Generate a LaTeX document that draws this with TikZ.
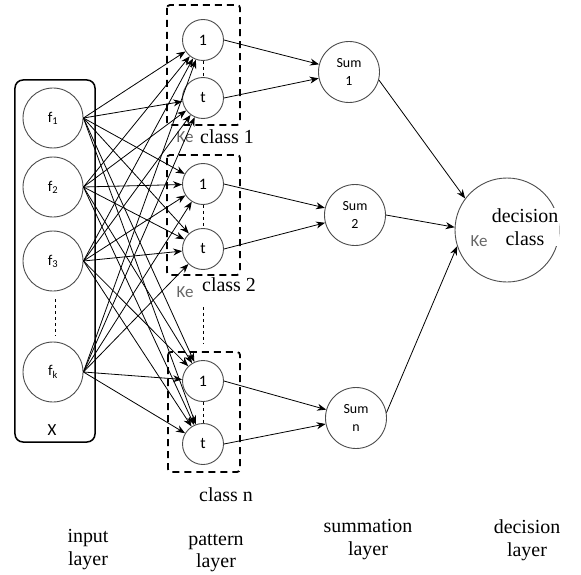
\documentclass[tikz,border=0pt]{standalone}
\usepackage{fontspec}
\setmainfont{Liberation Serif}
\newfontfamily\calib{Carlito}
\usetikzlibrary{arrows.meta}
\begin{document}
\begin{tikzpicture}[x=1bp,y=-1bp,
  fnode/.style={circle, draw=black!70, line width=0.9bp, minimum size=60bp, inner sep=0pt, font=\calib\fontsize{15}{15}\selectfont},
  pnode/.style={circle, draw=black!70, fill=white, line width=0.9bp, minimum size=41bp, inner sep=0pt, font=\calib\fontsize{16}{16}\selectfont},
  snode/.style={circle, draw=black!70, line width=0.9bp, minimum size=61bp, inner sep=0pt, align=center, font=\calib\fontsize{14}{18}\selectfont},
  dbox/.style={draw, line width=1.8bp, dash pattern=on 7bp off 5bp, rounded corners=3bp},
  conn/.style={-{Stealth[length=9bp,width=7bp]}, line width=0.8bp},
  lbl/.style={font=\fontsize{20}{23}\selectfont, align=center, inner sep=1bp},
  kelbl/.style={font=\calib\fontsize{17}{17}\selectfont, text=black!60, inner sep=0pt},
]
\useasboundingbox (0,0) rectangle (581,575);

% input layer
\node[draw, line width=1.5bp, rounded corners=8bp, minimum width=80bp, minimum height=362bp, inner sep=0pt] (X) at (55,261) {};
\node[font=\calib\fontsize{17}{17}\selectfont] (Xl) at (52,430) {X};
\node[fnode] (f1) at (53,118) {f\textsubscript{1}};
\node[fnode] (f2) at (53,187) {f\textsubscript{2}};
\node[fnode] (f3) at (53,261) {f\textsubscript{3}};
\node[fnode] (fk) at (53,372) {f\textsubscript{k}};
\draw[dashed, line width=0.8bp] (f3.south) ++(2,8) coordinate (da) -- ++(0,36) coordinate (db);

% pattern layer boxes
\draw[dbox] (167,5) rectangle (240,125);
\draw[dbox] (167,155) rectangle (240,275);
\draw[dbox] (168,352) rectangle (240,472);

\node[pnode] (p1) at (203,40) {1};
\node[pnode] (p2) at (203,98) {t};
\node[pnode] (p3) at (203,184) {1};
\node[pnode] (p4) at (203,249) {t};
\node[pnode] (p5) at (203,381) {1};
\node[pnode] (p6) at (203,444) {t};

\draw[dashed, line width=0.7bp] (p1) -- (p2);
\draw[dashed, line width=0.7bp] (p3) -- (p4);
\draw[dashed, line width=0.7bp] (p5) -- (p6);
\draw[dashed, line width=0.8bp] (203,307) coordinate (dc) -- (203,343) coordinate (dd);

% labels in pattern layer
\node[kelbl] (ke1) at (185,137) {Ke};
\node[lbl, fill=white, anchor=west] (c1) at (199,137) {class 1};
\node[kelbl] (ke2) at (185,292) {Ke};
\node[lbl, fill=white, anchor=west] (c2) at (201,285) {class 2};
\node[lbl] (cn) at (226,495) {class n};

% summation layer
\node[snode] (s1) at (349,72) {Sum\\1};
\node[snode] (s2) at (355,215) {Sum\\2};
\node[snode] (s3) at (356,418) {Sum\\n};

% decision
\node[circle, draw=black!70, line width=0.9bp, minimum size=104bp, inner sep=0pt] (d) at (507,230) {};
\node[kelbl] (ke3) at (479,241) {Ke};
\node[lbl, fill=white] (dc1) at (525,227) {decision\\class};

% input connections
\foreach \f in {f1,f2,f3,fk}
  \foreach \p in {p1,p2,p3,p4,p5,p6}
    \draw[conn] (\f.east) -- (\p);

% pattern -> summation
\draw[conn] (p1.east) -- (s1);
\draw[conn] (p2.east) -- (s1);
\draw[conn] (p3.east) -- (s2);
\draw[conn] (p4.east) -- (s2);
\draw[conn] (p5.east) -- (s3);
\draw[conn] (p6.east) -- (s3);

% summation -> decision
\draw[conn] (s1.-15) -- (d.143);
\draw[conn] (s2.east) -- (d.177);
\draw[conn] (s3.10) -- (d.198);

% bottom labels
\node[lbl] (L1) at (88,550) {input\\layer};
\node[lbl] (L2) at (216,553) {pattern\\layer};
\node[lbl] (L3) at (368,540) {summation\\layer};
\node[lbl] (L4) at (527,540) {decision\\layer};
\end{tikzpicture}
\end{document}
